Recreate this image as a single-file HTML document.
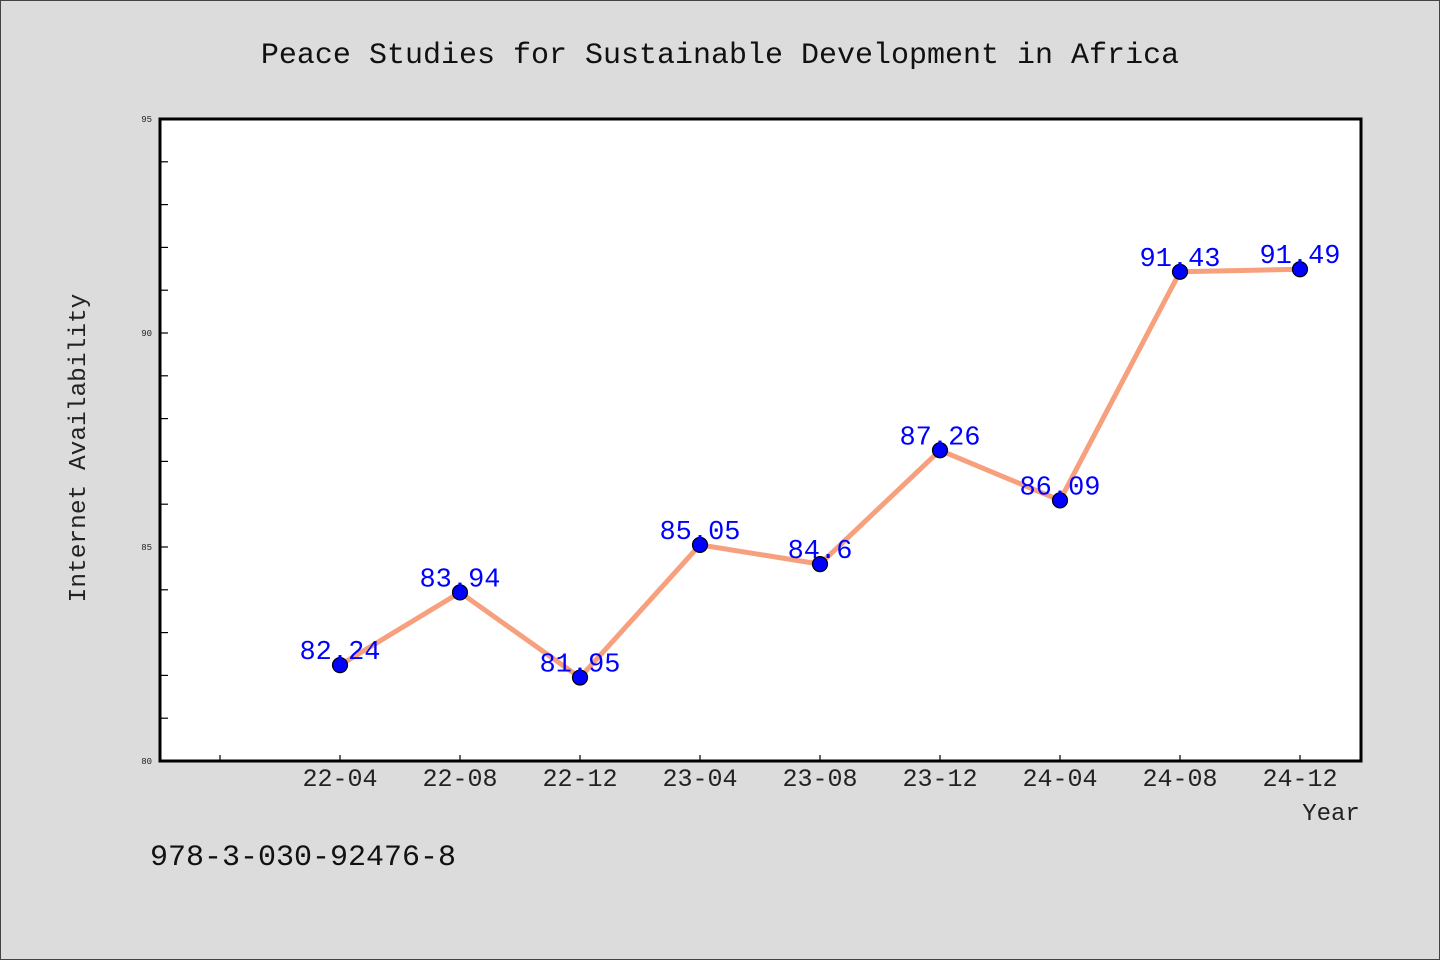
<!DOCTYPE html>
<html><head><meta charset="utf-8"><style>
html,body{margin:0;padding:0;background:#dcdcdc;}
svg{display:block;}
text{font-family:"WenQuanYi Zen Hei Mono","Liberation Mono","DejaVu Sans Mono",monospace;}
</style></head><body>
<svg id="chart" width="1440" height="960" viewBox="0 0 1440 960">
<rect x="0.5" y="0.5" width="1439" height="959" fill="#dcdcdc" stroke="#444" stroke-width="1"/>
<text x="720" y="63" text-anchor="middle" font-size="30" fill="#111">Peace Studies for Sustainable Development in Africa</text>
<rect x="160" y="119" width="1201" height="642" fill="#fff"/>
<g id="yaxis"></g>
<g id="xaxis"></g>
<g id="series"></g>
<rect x="160" y="119" width="1201" height="642" fill="none" stroke="#000" stroke-width="3"/>
<text x="85" y="448" text-anchor="middle" font-size="24.5" fill="#222" transform="rotate(-90 85 448)">Internet Availability</text>
<text x="1331" y="820" text-anchor="middle" font-size="24" fill="#222">Year</text>
<text x="150" y="865" font-size="30" fill="#111">978-3-030-92476-8</text>
</svg>
<script>
const categories = ["22-04","22-08","22-12","23-04","23-08","23-12","24-04","24-08","24-12"];
const values = [82.24,83.94,81.95,85.05,84.6,87.26,86.09,91.43,91.49];
const valueLabels = ["82.24","83.94","81.95","85.05","84.6","87.26","86.09","91.43","91.49"];
const yTickLabels = [80,85,90,95];
const yMin = 80, yMax = 95;
const NS = "http://www.w3.org/2000/svg";
function y(v){ return 761 - (v - yMin) / (yMax - yMin) * 642; }
function x(i){ return 340 + 120 * i; }
function mk(tag, attrs, parent){ const e=document.createElementNS(NS,tag); for(const k in attrs) e.setAttribute(k,attrs[k]); parent.appendChild(e); return e; }
const ya=document.getElementById('yaxis'), xa=document.getElementById('xaxis'), se=document.getElementById('series');
for(let v=yMin; v<=yMax; v++){
  const t=mk('line',{x1:160,x2:168,y1:y(v),y2:y(v),stroke:'#000','stroke-width':1.2},ya);
  
  
}
yTickLabels.forEach(v=>{
  const t=mk('text',{x:152,y:y(v)+3,'text-anchor':'end','font-size':9,fill:'#222'},ya);
  t.textContent=v;
  
  
});
const xl=mk('line',{x1:x(-1),x2:x(-1),y1:755,y2:761,stroke:'#000','stroke-width':1.2},xa);


categories.forEach((c,i)=>{
  const t=mk('line',{x1:x(i),x2:x(i),y1:755,y2:761,stroke:'#000','stroke-width':1.2},xa);
  
  
  const l=mk('text',{x:x(i),y:786,'text-anchor':'middle','font-size':25,fill:'#222'},xa);
  l.textContent=c;
  
  
});
const pts=values.map((v,i)=>x(i)+','+y(v)).join(' ');
const pl=mk('polyline',{points:pts,fill:'none',stroke:'#f7a07e','stroke-width':5,'stroke-linejoin':'round'},se);


values.forEach((v,i)=>{
  const c=mk('circle',{cx:x(i),cy:y(v),r:7.5,fill:'#0000ff',stroke:'#000','stroke-width':1.2},se);
  
  
  const t=mk('text',{x:x(i),y:y(v)-6,'text-anchor':'middle','font-size':27,fill:'#0000ff'},se);
  t.textContent=valueLabels[i];
  
  
});
</script>
</body></html>
